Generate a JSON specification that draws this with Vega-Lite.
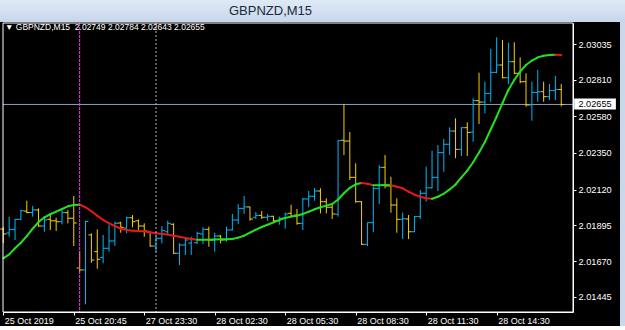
{
"$schema": "https://vega.github.io/schema/vega-lite/v6.json",
"padding": 0,
"spacing": 0,
"background": "#c9d8ea",
"datasets": {
"bars": [
{"i":0,"o":2.01872,"h":2.01885,"l":2.01784,"c":2.01841,"ma":2.01688,"t":"u"},
{"i":1,"o":2.01847,"h":2.01950,"l":2.01824,"c":2.01870,"ma":2.01713,"t":"u"},
{"i":2,"o":2.01870,"h":2.01935,"l":2.01803,"c":2.01933,"ma":2.01751,"t":"u"},
{"i":3,"o":2.01933,"h":2.01992,"l":2.01930,"c":2.01987,"ma":2.01786,"t":"u"},
{"i":4,"o":2.01985,"h":2.02050,"l":2.01971,"c":2.01976,"ma":2.01828,"t":"u"},
{"i":5,"o":2.01976,"h":2.02017,"l":2.01950,"c":2.01992,"ma":2.01874,"t":"u"},
{"i":6,"o":2.01992,"h":2.02002,"l":2.01887,"c":2.01891,"ma":2.01916,"t":"u"},
{"i":7,"o":2.01891,"h":2.01950,"l":2.01855,"c":2.01929,"ma":2.01946,"t":"u"},
{"i":8,"o":2.01933,"h":2.01971,"l":2.01866,"c":2.01924,"ma":2.01965,"t":"u"},
{"i":9,"o":2.01924,"h":2.01943,"l":2.01860,"c":2.01918,"ma":2.01981,"t":"u"},
{"i":10,"o":2.01918,"h":2.01992,"l":2.01902,"c":2.01975,"ma":2.01998,"t":"u"},
{"i":11,"o":2.01975,"h":2.01992,"l":2.01908,"c":2.01940,"ma":2.02015,"t":"u"},
{"i":12,"o":2.01940,"h":2.02080,"l":2.01765,"c":2.01910,"ma":2.02023,"t":"u"},
{"i":13,"o":2.01627,"h":2.01734,"l":2.01598,"c":2.01615,"ma":2.02025,"t":"u"},
{"i":14,"o":2.01615,"h":2.01925,"l":2.01399,"c":2.01920,"ma":2.02009,"t":"d"},
{"i":15,"o":2.01835,"h":2.01845,"l":2.01660,"c":2.01677,"ma":2.01984,"t":"d"},
{"i":16,"o":2.01730,"h":2.01870,"l":2.01623,"c":2.01682,"ma":2.01956,"t":"d"},
{"i":17,"o":2.01694,"h":2.01835,"l":2.01657,"c":2.01751,"ma":2.01929,"t":"d"},
{"i":18,"o":2.01751,"h":2.01897,"l":2.01730,"c":2.01797,"ma":2.01908,"t":"d"},
{"i":19,"o":2.01797,"h":2.01918,"l":2.01765,"c":2.01908,"ma":2.01891,"t":"d"},
{"i":20,"o":2.01910,"h":2.01918,"l":2.01849,"c":2.01883,"ma":2.01874,"t":"d"},
{"i":21,"o":2.01878,"h":2.01950,"l":2.01845,"c":2.01943,"ma":2.01866,"t":"d"},
{"i":22,"o":2.01943,"h":2.01960,"l":2.01883,"c":2.01918,"ma":2.01862,"t":"d"},
{"i":23,"o":2.01924,"h":2.01933,"l":2.01855,"c":2.01891,"ma":2.01860,"t":"d"},
{"i":24,"o":2.01891,"h":2.01908,"l":2.01824,"c":2.01860,"ma":2.01858,"t":"d"},
{"i":25,"o":2.01853,"h":2.01855,"l":2.01761,"c":2.01765,"ma":2.01852,"t":"d"},
{"i":26,"o":2.01765,"h":2.01835,"l":2.01730,"c":2.01814,"ma":2.01845,"t":"d"},
{"i":27,"o":2.01814,"h":2.01891,"l":2.01782,"c":2.01862,"ma":2.01841,"t":"d"},
{"i":28,"o":2.01855,"h":2.01924,"l":2.01835,"c":2.01908,"ma":2.01837,"t":"d"},
{"i":29,"o":2.01902,"h":2.01908,"l":2.01715,"c":2.01720,"ma":2.01830,"t":"d"},
{"i":30,"o":2.01720,"h":2.01782,"l":2.01646,"c":2.01772,"ma":2.01824,"t":"d"},
{"i":31,"o":2.01772,"h":2.01814,"l":2.01709,"c":2.01803,"ma":2.01816,"t":"d"},
{"i":32,"o":2.01784,"h":2.01824,"l":2.01709,"c":2.01809,"ma":2.01809,"t":"d"},
{"i":33,"o":2.01786,"h":2.01855,"l":2.01778,"c":2.01845,"ma":2.01805,"t":"d"},
{"i":34,"o":2.01841,"h":2.01883,"l":2.01778,"c":2.01870,"ma":2.01805,"t":"u"},
{"i":35,"o":2.01870,"h":2.01887,"l":2.01761,"c":2.01803,"ma":2.01805,"t":"u"},
{"i":36,"o":2.01803,"h":2.01849,"l":2.01730,"c":2.01828,"ma":2.01806,"t":"u"},
{"i":37,"o":2.01828,"h":2.01835,"l":2.01782,"c":2.01803,"ma":2.01808,"t":"u"},
{"i":38,"o":2.01803,"h":2.01887,"l":2.01793,"c":2.01866,"ma":2.01808,"t":"u"},
{"i":39,"o":2.01866,"h":2.01967,"l":2.01862,"c":2.01929,"ma":2.01809,"t":"u"},
{"i":40,"o":2.01929,"h":2.02029,"l":2.01904,"c":2.02002,"ma":2.01818,"t":"u"},
{"i":41,"o":2.02002,"h":2.02080,"l":2.01967,"c":2.02011,"ma":2.01830,"t":"u"},
{"i":42,"o":2.02011,"h":2.02012,"l":2.01924,"c":2.01935,"ma":2.01849,"t":"u"},
{"i":43,"o":2.01946,"h":2.01979,"l":2.01935,"c":2.01958,"ma":2.01868,"t":"u"},
{"i":44,"o":2.01958,"h":2.01985,"l":2.01935,"c":2.01946,"ma":2.01885,"t":"u"},
{"i":45,"o":2.01946,"h":2.01967,"l":2.01924,"c":2.01952,"ma":2.01899,"t":"u"},
{"i":46,"o":2.01952,"h":2.01956,"l":2.01914,"c":2.01924,"ma":2.01914,"t":"u"},
{"i":47,"o":2.01924,"h":2.01950,"l":2.01899,"c":2.01940,"ma":2.01929,"t":"u"},
{"i":48,"o":2.01940,"h":2.01975,"l":2.01874,"c":2.01967,"ma":2.01942,"t":"u"},
{"i":49,"o":2.01971,"h":2.02025,"l":2.01950,"c":2.01954,"ma":2.01950,"t":"u"},
{"i":50,"o":2.01960,"h":2.01998,"l":2.01899,"c":2.01908,"ma":2.01956,"t":"u"},
{"i":51,"o":2.01908,"h":2.02067,"l":2.01866,"c":2.02061,"ma":2.01967,"t":"u"},
{"i":52,"o":2.02061,"h":2.02111,"l":2.02009,"c":2.02078,"ma":2.01981,"t":"u"},
{"i":53,"o":2.02078,"h":2.02130,"l":2.02050,"c":2.02111,"ma":2.01996,"t":"u"},
{"i":54,"o":2.02111,"h":2.02128,"l":2.01971,"c":2.02044,"ma":2.02009,"t":"u"},
{"i":55,"o":2.02044,"h":2.02065,"l":2.01971,"c":2.02009,"ma":2.02019,"t":"u"},
{"i":56,"o":2.02009,"h":2.02034,"l":2.01935,"c":2.01967,"ma":2.02029,"t":"u"},
{"i":57,"o":2.01965,"h":2.02432,"l":2.01950,"c":2.02427,"ma":2.02058,"t":"u"},
{"i":58,"o":2.02430,"h":2.02658,"l":2.02337,"c":2.02425,"ma":2.02097,"t":"u"},
{"i":59,"o":2.02425,"h":2.02482,"l":2.02180,"c":2.02197,"ma":2.02131,"t":"u"},
{"i":60,"o":2.02197,"h":2.02285,"l":2.02037,"c":2.02044,"ma":2.02153,"t":"u"},
{"i":61,"o":2.02044,"h":2.02048,"l":2.01772,"c":2.01776,"ma":2.02161,"t":"u"},
{"i":62,"o":2.01776,"h":2.01914,"l":2.01765,"c":2.01912,"ma":2.02157,"t":"d"},
{"i":63,"o":2.01912,"h":2.02138,"l":2.01852,"c":2.02128,"ma":2.02147,"t":"d"},
{"i":64,"o":2.02128,"h":2.02274,"l":2.02029,"c":2.02260,"ma":2.02147,"t":"u"},
{"i":65,"o":2.02260,"h":2.02337,"l":2.02128,"c":2.02143,"ma":2.02149,"t":"u"},
{"i":66,"o":2.02143,"h":2.02201,"l":2.01975,"c":2.02023,"ma":2.02147,"t":"u"},
{"i":67,"o":2.02023,"h":2.02065,"l":2.01849,"c":2.01933,"ma":2.02138,"t":"d"},
{"i":68,"o":2.01933,"h":2.01975,"l":2.01809,"c":2.01937,"ma":2.02128,"t":"d"},
{"i":69,"o":2.01935,"h":2.01960,"l":2.01809,"c":2.01855,"ma":2.02107,"t":"d"},
{"i":70,"o":2.01855,"h":2.01954,"l":2.01852,"c":2.01950,"ma":2.02088,"t":"d"},
{"i":71,"o":2.01950,"h":2.02117,"l":2.01935,"c":2.02097,"ma":2.02075,"t":"d"},
{"i":72,"o":2.02097,"h":2.02264,"l":2.02044,"c":2.02131,"ma":2.02065,"t":"d"},
{"i":73,"o":2.02131,"h":2.02364,"l":2.02128,"c":2.02197,"ma":2.02062,"t":"d"},
{"i":74,"o":2.02197,"h":2.02400,"l":2.02111,"c":2.02352,"ma":2.02075,"t":"u"},
{"i":75,"o":2.02352,"h":2.02438,"l":2.02232,"c":2.02405,"ma":2.02094,"t":"u"},
{"i":76,"o":2.02405,"h":2.02511,"l":2.02337,"c":2.02488,"ma":2.02121,"t":"u"},
{"i":77,"o":2.02488,"h":2.02568,"l":2.02317,"c":2.02373,"ma":2.02152,"t":"u"},
{"i":78,"o":2.02373,"h":2.02513,"l":2.02331,"c":2.02509,"ma":2.02197,"t":"u"},
{"i":79,"o":2.02509,"h":2.02543,"l":2.02331,"c":2.02479,"ma":2.02239,"t":"u"},
{"i":80,"o":2.02481,"h":2.02694,"l":2.02421,"c":2.02679,"ma":2.02292,"t":"u"},
{"i":81,"o":2.02679,"h":2.02855,"l":2.02532,"c":2.02670,"ma":2.02353,"t":"u"},
{"i":82,"o":2.02670,"h":2.02798,"l":2.02599,"c":2.02725,"ma":2.02419,"t":"u"},
{"i":83,"o":2.02725,"h":2.03004,"l":2.02669,"c":2.02857,"ma":2.02499,"t":"u"},
{"i":84,"o":2.02857,"h":2.03077,"l":2.02851,"c":2.02903,"ma":2.02578,"t":"u"},
{"i":85,"o":2.02903,"h":2.03060,"l":2.02819,"c":2.02823,"ma":2.02664,"t":"u"},
{"i":86,"o":2.02823,"h":2.03043,"l":2.02782,"c":2.02924,"ma":2.02746,"t":"u"},
{"i":87,"o":2.02924,"h":2.03046,"l":2.02845,"c":2.02851,"ma":2.02809,"t":"u"},
{"i":88,"o":2.02851,"h":2.02951,"l":2.02788,"c":2.02798,"ma":2.02861,"t":"u"},
{"i":89,"o":2.02798,"h":2.02851,"l":2.02641,"c":2.02652,"ma":2.02903,"t":"u"},
{"i":90,"o":2.02652,"h":2.02798,"l":2.02553,"c":2.02731,"ma":2.02931,"t":"u"},
{"i":91,"o":2.02731,"h":2.02872,"l":2.02672,"c":2.02735,"ma":2.02951,"t":"u"},
{"i":92,"o":2.02735,"h":2.02798,"l":2.02672,"c":2.02704,"ma":2.02961,"t":"u"},
{"i":93,"o":2.02704,"h":2.02784,"l":2.02683,"c":2.02742,"ma":2.02966,"t":"u"},
{"i":94,"o":2.02742,"h":2.02834,"l":2.02683,"c":2.02750,"ma":2.02967,"t":"u"},
{"i":95,"o":2.02749,"h":2.02784,"l":2.02643,"c":2.02655,"ma":2.02966,"t":"d"}
]
},
"vconcat": [
{
"width": 625,
"height": 22,
"view": {"fill": {"gradient": "linear", "x1": 0, "y1": 0, "x2": 0, "y2": 1, "stops": [{"offset": 0, "color": "#e0eaf6"}, {"offset": 1, "color": "#c6d6eb"}]}, "stroke": null},
"data": {"values": [{"label": "GBPNZD,M15"}]},
"mark": {"type": "text", "font": "Liberation Sans", "fontSize": 13, "color": "#1c2a3a", "dx": -42, "baseline": "middle"},
"encoding": {"text": {"field": "label"}}
},
{
"width": 620,
"height": 304,
"view": {"fill": "#000000", "stroke": null},
"title": {"text": "▼ GBPNZD,M15\u00a0\u00a02.02749 2.02784 2.02643 2.02655", "anchor": "start", "frame": "group", "offset": -16, "dx": 5, "baseline": "alphabetic", "color": "#ffffff", "fontSize": 8.5, "font": "Liberation Sans", "fontWeight": "normal"},
"layer": [
{
"data": {"values": [{}]},
"mark": {"type": "rule", "color": "#8e9eb4", "strokeWidth": 1},
"encoding": {
"x": {"datum": -0.05, "type": "quantitative", "title": null, "scale": {"domain": [-0.05, 97], "range": [3, 573], "nice": false, "zero": false},
"axis": {"orient": "bottom", "offset": -14, "values": [0,12,24,36,48,60,72,84], "labelExpr": "['25 Oct 2019','25 Oct 20:45','27 Oct 23:30','28 Oct 02:30','28 Oct 05:30','28 Oct 08:30','28 Oct 11:30','28 Oct 14:30'][round(datum.value/12)]", "title": null, "domainColor": "#ffffff", "tickColor": "#ffffff", "tickSize": 3, "labelColor": "#ffffff", "labelFont": "Liberation Sans", "labelFontSize": 9, "labelAlign": "left", "labelBaseline": "top", "labelPadding": 1, "labelOffset": 1, "grid": false, "labelFlush": false, "labelOverlap": false}},
"x2": {"datum": 97},
"y": {"datum": 2.02655, "type": "quantitative", "title": null, "scale": {"domain": [2.013506, 2.03167], "range": [290, 1], "nice": false, "zero": false},
"axis": {"orient": "right", "offset": -47, "values": [2.01445, 2.0167, 2.01895, 2.0212, 2.0235, 2.0258, 2.0281, 2.03035], "format": ".5f", "title": null, "domainColor": "#ffffff", "tickColor": "#ffffff", "tickSize": 3, "labelColor": "#ffffff", "labelFont": "Liberation Sans", "labelFontSize": 9.2, "labelPadding": 2, "grid": false, "labelOverlap": false, "labelFlush": false}}
}
},
{
"data": {"name": "bars"},
"mark": {"type": "rule", "strokeWidth": 1},
"encoding": {
"x": {"field": "i", "type": "quantitative", "title": null},
"y": {"field": "l", "type": "quantitative", "title": null},
"y2": {"field": "h"},
"color": {"condition": {"test": "datum.c >= datum.o", "value": "#00b8f8"}, "value": "#f8d000"}
}
},
{
"data": {"name": "bars"},
"mark": {"type": "tick", "orient": "horizontal", "size": 3, "thickness": 1, "xOffset": -1.5, "opacity": 1},
"encoding": {
"x": {"field": "i", "type": "quantitative", "title": null},
"y": {"field": "o", "type": "quantitative", "title": null},
"color": {"condition": {"test": "datum.c >= datum.o", "value": "#00b8f8"}, "value": "#f8d000"}
}
},
{
"data": {"name": "bars"},
"mark": {"type": "tick", "orient": "horizontal", "size": 3, "thickness": 1, "xOffset": 1.5, "opacity": 1},
"encoding": {
"x": {"field": "i", "type": "quantitative", "title": null},
"y": {"field": "c", "type": "quantitative", "title": null},
"color": {"condition": {"test": "datum.c >= datum.o", "value": "#00b8f8"}, "value": "#f8d000"}
}
},
{
"data": {"name": "bars"},
"transform": [
{"window": [{"op": "lag", "field": "ma", "as": "pma"}, {"op": "lag", "field": "i", "as": "pi"}], "sort": [{"field": "i"}]},
{"filter": "datum.pma != null"}
],
"mark": {"type": "rule", "strokeWidth": 2, "strokeCap": "round"},
"encoding": {
"x": {"field": "pi", "type": "quantitative", "title": null},
"x2": {"field": "i"},
"y": {"field": "pma", "type": "quantitative", "title": null},
"y2": {"field": "ma"},
"color": {"condition": {"test": "datum.t == 'u'", "value": "#22e022"}, "value": "#e81818"}
}
},
{
"data": {"values": [{}]},
"mark": {"type": "rule", "color": "#ff33ff", "strokeWidth": 1, "strokeDash": [3, 1]},
"encoding": {
"x": {"datum": 13, "type": "quantitative", "title": null},
"y": {"datum": 2.03167, "type": "quantitative", "title": null},
"y2": {"datum": 2.013506}
}
},
{
"data": {"values": [{}]},
"mark": {"type": "rule", "color": "#b4b4b4", "strokeWidth": 1, "strokeDash": [2, 2]},
"encoding": {
"x": {"datum": 26, "type": "quantitative", "title": null},
"y": {"datum": 2.03167, "type": "quantitative", "title": null},
"y2": {"datum": 2.013506}
}
},
{
"data": {"values": [{}]},
"mark": {"type": "rect", "fillOpacity": 0, "stroke": "#ffffff", "strokeWidth": 1},
"encoding": {
"x": {"datum": -0.05, "type": "quantitative", "title": null},
"x2": {"datum": 97},
"y": {"datum": 2.03167, "type": "quantitative", "title": null},
"y2": {"datum": 2.013506}
}
},
{
"data": {"values": [{}]},
"mark": {"type": "rect", "color": "#ffffff"},
"encoding": {
"x": {"datum": 97.2, "type": "quantitative", "title": null},
"x2": {"datum": 104.3},
"y": {"datum": 2.02693, "type": "quantitative", "title": null},
"y2": {"datum": 2.02624}
}
},
{
"data": {"values": [{"price": "2.02655"}]},
"mark": {"type": "text", "color": "#000000", "font": "Liberation Sans", "fontSize": 9.2, "align": "center", "baseline": "middle"},
"encoding": {
"x": {"datum": 100.75, "type": "quantitative", "title": null},
"y": {"datum": 2.02655, "type": "quantitative", "title": null},
"text": {"field": "price"}
}
}
]
}
],
"config": {"view": {"stroke": null}, "font": "Liberation Sans"}
}
